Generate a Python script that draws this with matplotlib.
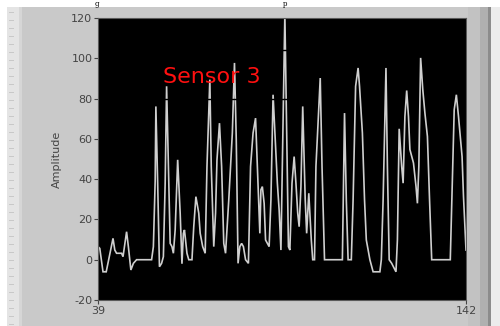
import matplotlib
matplotlib.use("Agg")
import matplotlib.pyplot as plt
from matplotlib.patches import Rectangle

plt.rcParams["axes.unicode_minus"] = False

# ---- data ----
x_vals = [39.0, 39.5, 40.4, 41.3, 43.2, 43.7, 44.2, 45.6, 46.0, 47.0, 47.5, 48.2, 48.9, 49.8,
          54.0, 54.5, 55.0, 55.2, 55.7, 56.2, 56.8, 57.3, 57.8, 58.2, 58.7, 59.2, 59.7, 60.1,
          60.6, 61.3, 62.0, 62.5, 62.9, 63.2, 63.9, 64.4, 65.3, 65.8, 66.4, 67.2, 67.6, 68.3,
          69.0, 69.5, 70.3, 70.7, 71.4, 71.9, 72.3, 73.0, 73.6, 74.2, 74.7, 75.6, 76.6, 77.2,
          77.7, 78.2, 78.7, 79.2, 79.7, 80.3, 81.1, 81.7, 82.4, 83.1, 83.6, 84.3, 84.6, 85.0,
          85.5, 85.9, 86.4, 86.9, 87.4, 88.0, 88.6, 89.2, 89.7, 90.2, 90.6, 91.3, 91.8, 92.3,
          92.7, 93.3, 93.9, 94.4, 94.9, 95.3, 95.8, 96.3, 96.7, 97.0, 97.4, 98.0, 98.3, 98.7,
          99.1, 99.6, 100.0, 101.2, 101.7, 102.4, 107.4, 108.0, 108.5, 109.0, 109.9, 110.4,
          111.1, 111.8, 112.2, 113.0, 113.6, 114.1, 115.1, 116.0, 117.9, 118.3, 118.8, 119.6,
          120.0, 120.5, 121.2, 122.4, 122.8, 123.3, 124.0, 124.4, 124.9, 125.4, 125.9, 126.3,
          127.3, 128.0, 128.4, 128.8, 129.3, 129.9, 130.5, 131.2, 131.8, 132.4, 137.6, 138.1,
          138.7, 139.3, 139.9, 140.9, 141.3, 142.0]
amplitude = [6.5, 5.6, -6.0, -6.0, 10.6, 4.8, 3.2, 3.2, 1.5, 13.9, 6.5, -5.1, -1.8, 0.0,
             0.0, 6.5, 38.8, 76.1, 38.0, -3.5, -1.8, 1.5, 38.0, 86.1, 46.3, 8.1, 6.5, 3.2,
             14.8, 49.6, 23.1, -2.0, 13.1, 14.8, 3.2, 0.0, 0.0, 16.4, 31.3, 23.1, 13.1, 6.5,
             3.2, 46.3, 89.4, 46.3, 6.5, 23.1, 49.6, 67.8, 46.3, 8.1, 3.2, 29.7, 62.9, 97.7,
             59.5, -1.8, 6.5, 8.1, 6.5, 0.0, -1.8, 46.3, 62.9, 70.3, 46.3, 13.1, 34.7, 36.3,
             28.0, 9.8, 8.1, 6.5, 29.7, 81.9, 59.5, 38.0, 24.7, 4.8, 46.3, 122.0, 62.9, 6.5,
             4.8, 38.0, 51.2, 38.0, 23.1, 16.4, 36.3, 76.1, 49.6, 29.7, 13.1, 33.0, 23.1, 9.8,
             0.0, 0.0, 46.3, 90.2, 46.3, 0.0, 0.0, 72.8, 29.7, 0.0, 0.0, 29.7, 86.1, 95.2,
             86.1, 62.9, 29.7, 9.8, 0.0, -6.0, -6.0, 0.0, 29.7, 95.2, 46.3, 0.0, -1.8, -6.0,
             9.8, 65.0, 46.3, 38.0, 71.1, 84.0, 71.1, 54.7, 48.0, 36.5, 28.0, 46.3, 100.2,
             84.5, 72.8, 61.2, 29.7, 0.0, 0.0, 33.0, 74.5, 81.9, 71.1, 51.2, 31.3, 4.8]
y_ticks = [-20, 0, 20, 40, 60, 80, 100, 120]
x_ticks = [39, 142]
label_text = "Sensor 3"

W, H = 500, 326
fig = plt.figure(figsize=(W / 100, H / 100), dpi=100)
fig.patch.set_facecolor("white")

def px(x0, y0, w, h, color, z=0):
    fig.patches.append(Rectangle((x0 / W, 1 - (y0 + h) / H), w / W, h / H,
                                 transform=fig.transFigure, facecolor=color,
                                 edgecolor="none", zorder=z))

# panel background
px(7, 7, 483, 319, "#c9c9c9")
px(7, 7, 12, 319, "#e4e4e4")
px(19, 7, 3, 319, "#d6d6d6")
px(468, 7, 12, 319, "#c2c2c2")
px(480, 7, 8, 319, "#b0b0b0")
px(488, 7, 3, 319, "#8c8c8c")
px(491, 7, 9, 319, "#ececec")
for yy in range(12, 326, 8):
    px(9, yy, 5, 1, "#c8c8c8", 1)

# caption fragments at top
fig.text(95 / W, 1.0, "g", family="DejaVu Serif", fontsize=5, color="black",
         va="top", ha="left")
fig.text(283 / W, 1.0, "p", family="DejaVu Serif", fontsize=5, color="black",
         va="top", ha="left")

ax = fig.add_axes([98 / W, 1 - 300 / H, 368 / W, 282 / H])
ax.set_zorder(5)
ax.set_facecolor("black")
ax.plot(x_vals, amplitude, color="#cfcfcf", lw=1.2, solid_joinstyle="miter", zorder=2)
ax.plot([57.3, 91.8], [80, 80], color="black", lw=1.0, zorder=3)
ax.plot([90.8, 91.8], [104, 104], color="black", lw=1.0, zorder=3)
ax.set_xlim(39, 142)
ax.set_ylim(-20, 120)
ax.set_yticks(y_ticks)
ax.set_xticks(x_ticks)
ax.tick_params(axis="both", colors="#444444", labelsize=8, length=3, width=0.8, pad=1)
for s in ax.spines.values():
    s.set_color("#5a5a5a")
    s.set_linewidth(0.8)
ax.set_ylabel("Amplitude", fontsize=8, color="#444444", labelpad=7)
ax.text(57.3, 90.5, label_text, color="#ff1010", fontsize=16, va="center", ha="left",
        zorder=4)

fig.savefig("out.png", dpi=100)
